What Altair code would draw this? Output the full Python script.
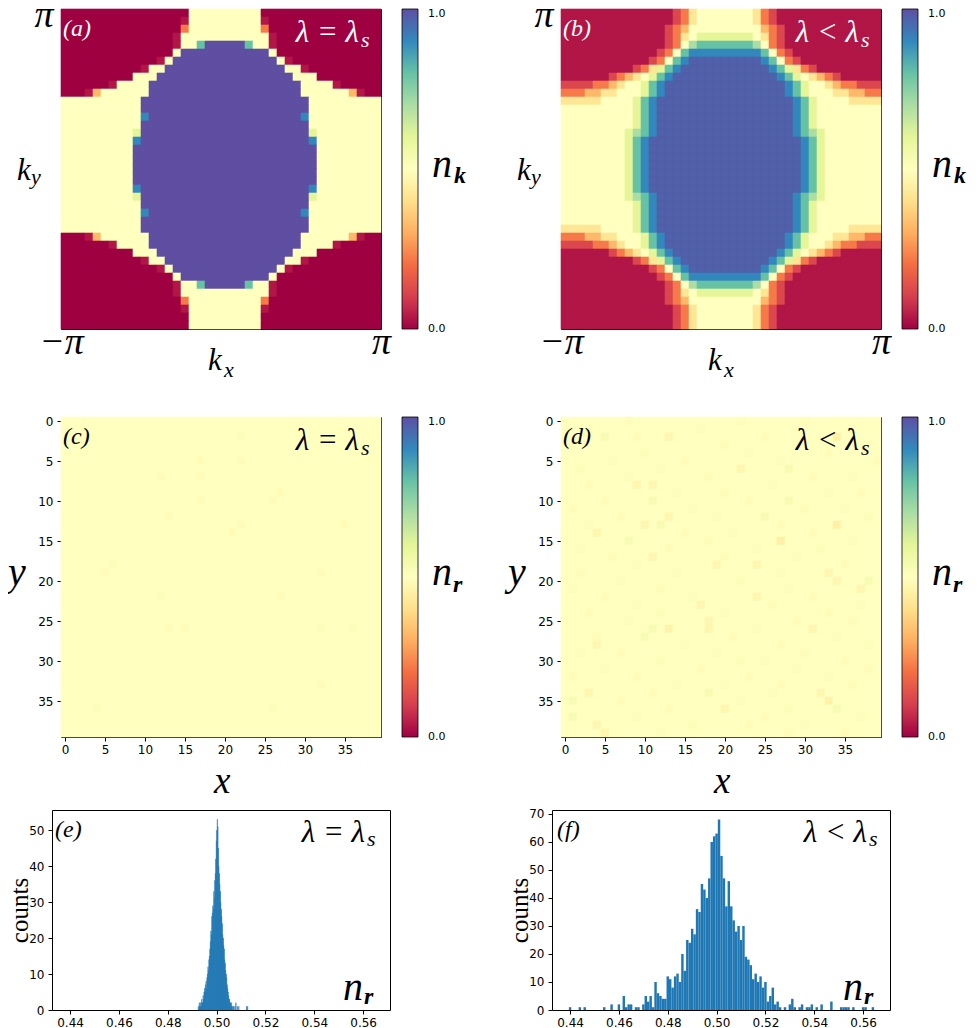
import altair as alt
import pandas as pd

SERIF = "Liberation Serif"
SANS = "DejaVu Sans"

# matplotlib "Spectral" colour stops (piecewise linear, as in the original colormap)
SPECTRAL_STOPS = [0.0, 0.1, 0.2, 0.3, 0.4, 0.5, 0.6, 0.7, 0.8, 0.9, 1.0]
SPECTRAL_COLORS = ["#9e0142", "#d53e4f", "#f46d43", "#fdae61", "#fee08b", "#ffffbf",
                   "#e6f598", "#abdda4", "#66c2a5", "#3288bd", "#5e4fa2"]

# colour level codes used in the momentum-space maps
LEVELS = {"z": 0.0, "a": 0.035, "1": 0.12, "2": 0.22, "3": 0.32, "4": 0.42,
          "5": 0.5, "6": 0.6, "7": 0.7, "8": 0.8, "9": 0.9, "A": 0.97, "B": 1.0}

# (a) n_k, lambda = lambda_s  (run-length rows, top row first, 40 cells each)
A_ROWS = [
    "z:16 5:9 z:15",
    "z:15 a:1 5:9 a:1 z:14",
    "z:15 2:1 5:9 2:1 z:14",
    "z:14 a:1 5:11 a:1 z:13",
    "z:14 a:1 5:2 8:1 B:5 8:1 5:2 a:1 z:13",
    "z:14 5:1 B:11 5:1 z:13",
    "z:12 a:1 5:1 B:13 5:1 a:1 z:11",
    "z:10 a:1 5:2 B:15 5:2 a:1 z:9",
    "z:9 5:3 B:17 5:3 z:8",
    "z:6 a:1 5:4 B:19 5:4 a:1 z:5",
    "z:3 a:1 3:1 5:6 B:19 5:6 3:1 a:1 z:2",
    "5:10 B:21 5:9",
    "5:10 B:21 5:9",
    "5:10 9:1 B:19 9:1 5:9",
    "5:10 B:21 5:9",
    "5:9 6:1 B:21 6:1 5:8",
    "5:9 9:1 B:21 9:1 5:8",
    "5:9 B:23 5:8",
    "5:9 B:23 5:8",
    "5:9 B:23 5:8",
    "5:9 B:23 5:8",
    "5:9 B:23 5:8",
    "5:9 9:1 B:21 9:1 5:8",
    "5:9 6:1 B:21 6:1 5:8",
    "5:10 B:21 5:9",
    "5:10 9:1 B:19 9:1 5:9",
    "5:10 B:21 5:9",
    "5:10 B:21 5:9",
    "z:3 a:1 3:1 5:6 B:19 5:6 3:1 a:1 z:2",
    "z:6 a:1 5:4 B:19 5:4 a:1 z:5",
    "z:9 5:3 B:17 5:3 z:8",
    "z:10 a:1 5:2 B:15 5:2 a:1 z:9",
    "z:12 a:1 5:1 B:13 5:1 a:1 z:11",
    "z:14 5:1 B:11 5:1 z:13",
    "z:14 a:1 5:2 8:1 B:5 8:1 5:2 a:1 z:13",
    "z:14 a:1 5:11 a:1 z:13",
    "z:15 2:1 5:9 2:1 z:14",
    "z:15 a:1 5:9 a:1 z:14",
    "z:16 5:9 z:15",
    "z:16 5:9 z:15",
]

# (b) n_k, lambda < lambda_s
B_ROWS = [
    "a:14 1:1 2:1 4:1 5:7 4:1 2:1 1:1 a:13",
    "a:14 1:1 2:1 4:1 5:7 4:1 2:1 1:1 a:13",
    "a:13 1:1 2:1 3:1 5:9 3:1 2:1 1:1 a:12",
    "a:13 1:1 2:1 4:1 5:1 6:7 5:1 4:1 2:1 1:1 a:12",
    "a:13 1:1 2:1 5:1 7:1 8:7 7:1 5:1 2:1 1:1 a:12",
    "a:12 1:1 2:1 5:1 8:1 9:9 8:1 5:1 2:1 1:1 a:11",
    "a:11 1:1 2:1 5:1 8:1 9:1 A:9 9:1 8:1 5:1 2:1 1:1 a:10",
    "a:9 1:1 2:1 4:1 6:1 8:1 9:1 A:11 9:1 8:1 6:1 4:1 2:1 1:1 a:8",
    "a:6 1:1 2:1 3:1 4:1 5:1 6:1 8:1 9:1 A:13 9:1 8:1 6:1 5:1 4:1 3:1 2:1 1:1 a:5",
    "1:4 2:2 3:1 4:1 5:2 6:1 8:1 9:1 A:15 9:1 8:1 6:1 5:2 4:1 3:1 2:2 1:3",
    "2:3 3:2 4:2 5:3 6:1 8:1 9:1 A:15 9:1 8:1 6:1 5:3 4:2 3:2 2:2",
    "4:5 5:4 6:1 8:1 9:1 A:17 9:1 8:1 6:1 5:4 4:4",
    "5:9 6:1 8:1 9:1 A:17 9:1 8:1 6:1 5:8",
    "5:9 6:1 8:1 9:1 A:17 9:1 8:1 6:1 5:8",
    "5:9 6:1 8:1 9:1 A:17 9:1 8:1 6:1 5:8",
    "5:8 6:1 7:1 8:1 9:1 A:17 9:1 8:1 7:1 6:1 5:7",
    "5:8 6:1 8:1 9:1 A:19 9:1 8:1 6:1 5:7",
    "5:8 6:1 8:1 9:1 A:19 9:1 8:1 6:1 5:7",
    "5:8 6:1 8:1 9:1 A:19 9:1 8:1 6:1 5:7",
    "5:8 6:1 8:1 9:1 A:19 9:1 8:1 6:1 5:7",
    "5:8 6:1 8:1 9:1 A:19 9:1 8:1 6:1 5:7",
    "5:8 6:1 8:1 9:1 A:19 9:1 8:1 6:1 5:7",
    "5:8 6:1 8:1 9:1 A:19 9:1 8:1 6:1 5:7",
    "5:8 6:1 7:1 8:1 9:1 A:17 9:1 8:1 7:1 6:1 5:7",
    "5:9 6:1 8:1 9:1 A:17 9:1 8:1 6:1 5:8",
    "5:9 6:1 8:1 9:1 A:17 9:1 8:1 6:1 5:8",
    "5:9 6:1 8:1 9:1 A:17 9:1 8:1 6:1 5:8",
    "4:5 5:4 6:1 8:1 9:1 A:17 9:1 8:1 6:1 5:4 4:4",
    "2:3 3:2 4:2 5:3 6:1 8:1 9:1 A:15 9:1 8:1 6:1 5:3 4:2 3:2 2:2",
    "1:4 2:2 3:1 4:1 5:2 6:1 8:1 9:1 A:15 9:1 8:1 6:1 5:2 4:1 3:1 2:2 1:3",
    "a:6 1:1 2:1 3:1 4:1 5:1 6:1 8:1 9:1 A:13 9:1 8:1 6:1 5:1 4:1 3:1 2:1 1:1 a:5",
    "a:9 1:1 2:1 4:1 6:1 8:1 9:1 A:11 9:1 8:1 6:1 4:1 2:1 1:1 a:8",
    "a:11 1:1 2:1 5:1 8:1 9:1 A:9 9:1 8:1 5:1 2:1 1:1 a:10",
    "a:12 1:1 2:1 5:1 8:1 9:9 8:1 5:1 2:1 1:1 a:11",
    "a:13 1:1 2:1 5:1 7:1 8:7 7:1 5:1 2:1 1:1 a:12",
    "a:13 1:1 2:1 4:1 5:1 6:7 5:1 4:1 2:1 1:1 a:12",
    "a:13 1:1 2:1 3:1 5:9 3:1 2:1 1:1 a:12",
    "a:14 1:1 2:1 4:1 5:7 4:1 2:1 1:1 a:13",
    "a:14 1:1 2:1 4:1 5:7 4:1 2:1 1:1 a:13",
    "a:14 1:1 2:1 4:1 5:7 4:1 2:1 1:1 a:13",
]

# (c) n_r at lambda = lambda_s: uniform with faint cells (row, col, value)
C_BASE = 0.5
C_SPOTS = [(2, 22, .49), (7, 17, .49), (10, 26, .49), (9, 27, .49), (10, 17, .49),
           (12, 13, .49), (13, 22, .49), (14, 21, .49), (13, 35, .49), (19, 5, .49),
           (18, 6, .49), (22, 12, .49), (22, 27, .49), (19, 32, .49), (26, 13, .49),
           (26, 15, .49), (26, 32, .49), (26, 36, .49), (36, 4, .49), (36, 26, .49),
           (33, 32, .49), (7, 12, .49), (5, 17, .49), (5, 22, .49)]

# (d) n_r at lambda < lambda_s
D_BASE = 0.5
D_SPOTS = [
    (0, 22, .51), (0, 8, .49), (0, 30, .51),
    (1, 3, .49), (1, 17, .51), (1, 36, .49),
    (2, 5, .53), (2, 13, .47), (2, 34, .45), (2, 25, .49), (2, 9, .49),
    (3, 1, .51), (3, 20, .49), (3, 29, .51), (3, 38, .49),
    (4, 10, .49), (4, 23, .51), (4, 33, .49),
    (5, 6, .51), (5, 15, .49), (5, 27, .51), (5, 39, .49),
    (6, 22, .47), (6, 28, .53), (6, 2, .49), (6, 12, .51),
    (7, 8, .51), (7, 18, .49), (7, 31, .49), (7, 36, .51),
    (8, 9, .47), (8, 11, .47), (8, 26, .51), (8, 3, .49),
    (9, 14, .51), (9, 20, .49), (9, 33, .51), (9, 37, .49),
    (10, 11, .53), (10, 28, .53), (10, 5, .49), (10, 23, .49),
    (11, 1, .49), (11, 16, .51), (11, 30, .49), (11, 35, .51),
    (12, 13, .47), (12, 25, .53), (12, 7, .49), (12, 19, .51), (12, 38, .49),
    (13, 10, .47), (13, 12, .53), (13, 34, .45), (13, 3, .51), (13, 27, .49),
    (14, 4, .47), (14, 21, .51), (14, 31, .49), (14, 15, .49),
    (15, 8, .53), (15, 27, .45), (15, 18, .49), (15, 36, .51),
    (16, 2, .51), (16, 13, .49), (16, 24, .51), (16, 32, .49),
    (17, 11, .47), (17, 29, .51), (17, 6, .49), (17, 20, .49),
    (18, 19, .47), (18, 24, .47), (18, 9, .51), (18, 35, .49),
    (19, 33, .47), (19, 14, .51), (19, 2, .49), (19, 27, .51),
    (20, 34, .47), (20, 38, .53), (20, 7, .51), (20, 22, .49),
    (21, 37, .47), (21, 12, .49), (21, 28, .51), (21, 1, .51),
    (22, 24, .47), (22, 16, .51), (22, 31, .49), (22, 5, .49),
    (23, 17, .47), (23, 9, .51), (23, 26, .49), (23, 37, .51),
    (24, 3, .49), (24, 20, .51), (24, 33, .49), (24, 12, .49),
    (25, 18, .47), (25, 8, .51), (25, 29, .49), (25, 36, .49),
    (26, 13, .46), (26, 11, .53), (26, 18, .47), (26, 31, .47), (26, 24, .51),
    (27, 10, .53), (27, 4, .49), (27, 21, .49), (27, 34, .51),
    (28, 4, .47), (28, 15, .51), (28, 27, .49), (28, 38, .51),
    (29, 7, .49), (29, 19, .51), (29, 30, .49), (29, 2, .51),
    (30, 12, .49), (30, 25, .51), (30, 35, .49), (30, 22, .49),
    (31, 5, .51), (31, 17, .49), (31, 29, .51), (31, 38, .49),
    (32, 9, .49), (32, 23, .49), (32, 33, .51), (32, 1, .49),
    (33, 14, .51), (33, 27, .49), (33, 36, .49), (33, 20, .51),
    (34, 3, .47), (34, 18, .53), (34, 32, .47), (34, 11, .49), (34, 26, .51),
    (35, 1, .53), (35, 33, .46), (35, 7, .49), (35, 22, .51),
    (36, 20, .47), (36, 34, .53), (36, 13, .49), (36, 28, .49),
    (37, 1, .53), (37, 9, .51), (37, 25, .49), (37, 37, .51),
    (38, 4, .47), (38, 16, .49), (38, 30, .51), (38, 23, .49),
    (39, 5, .47), (39, 12, .51), (39, 28, .49), (39, 35, .49),
]

GRID_TICKS = [0, 5, 10, 15, 20, 25, 30, 35]
COLORBAR_LABELS = ["1.0", "0.0"]

# (e) histogram of n_r, lambda = lambda_s
E_START = 0.4924
E_WIDTH = 0.0002
E_COUNTS = [1, 0, 2, 1, 1, 2, 1, 3, 2, 2,
            4, 3, 5, 6, 5, 7, 8, 6, 9, 10,
            12, 11, 14, 15, 17, 19, 22, 21, 26, 27,
            29, 28, 33, 31, 36, 38, 42, 47, 50, 53,
            51, 45, 40, 38, 35, 33, 30, 28, 26, 24,
            21, 20, 18, 17, 14, 13, 11, 10, 9, 7,
            6, 5, 4, 3, 3, 2, 2, 1, 2, 1,
            0, 1, 1, 0, 0, 1, 0, 2, 0, 0,
            1, 0, 0, 1, 0, 0, 0, 0, 0, 0,
            0, 0, 0, 0, 0, 0, 0, 0, 0, 1,
            0, 1]

# (f) histogram of n_r, lambda < lambda_s
F_START = 0.4385
F_WIDTH = 0.001
F_COUNTS = [0, 1, 0, 0, 0, 1, 0, 1, 0, 0,
            0, 0, 0, 0, 0, 1, 0, 0, 2, 0,
            0, 2, 0, 5, 1, 2, 2, 0, 1, 1,
            0, 2, 5, 3, 5, 1, 10, 6, 5, 4,
            4, 12, 11, 8, 12, 13, 10, 20, 14, 25,
            24, 29, 27, 36, 35, 45, 43, 40, 47, 60,
            62, 63, 68, 55, 47, 37, 46, 37, 32, 28,
            30, 25, 30, 19, 18, 16, 11, 13, 10, 12,
            8, 10, 3, 5, 8, 2, 3, 1, 0, 1,
            0, 2, 4, 1, 0, 1, 2, 0, 1, 1,
            2, 0, 1, 0, 2, 0, 0, 0, 3, 0,
            0, 0, 1, 1, 1, 1, 0, 1, 0, 0,
            0, 1, 1, 0, 0, 1]

HIST_TICKS = [0.44, 0.46, 0.48, 0.50, 0.52, 0.54, 0.56]
HIST_X_DOMAIN = [0.4326, 0.5710]
E_YTICKS = [0, 10, 20, 30, 40, 50]
F_YTICKS = [0, 10, 20, 30, 40, 50, 60, 70]
E_YMAX = 55.65
F_YMAX = 71.4

ONE = pd.DataFrame({"k": [0]})


def expand(row):
    cells = []
    for tok in row.split():
        ch, n = tok.split(":")
        cells.extend([ch] * int(n))
    if len(cells) != 40:
        raise ValueError(f"row has {len(cells)} cells: {row}")
    return cells


def finish(recs):
    df = pd.DataFrame(recs)
    df["c0"] = df["col"] - 0.5
    df["c1"] = df["col"] + 0.5
    df["r0"] = df["row"] - 0.5
    df["r1"] = df["row"] + 0.5
    return df


def coded_frame(rows):
    if len(rows) != 40:
        raise ValueError("need 40 rows")
    recs = []
    for r, row in enumerate(rows):
        for c, ch in enumerate(expand(row)):
            recs.append({"col": c, "row": r, "v": LEVELS[ch]})
    return finish(recs)


def spot_frame(base, spots):
    vals = {(r, c): v for r, c, v in spots}
    recs = [{"col": c, "row": r, "v": vals.get((r, c), base)}
            for r in range(40) for c in range(40)]
    return finish(recs)


def label(text, x, y, size, color="black", style="italic", weight="normal",
          align="left", font=SERIF, baseline="alphabetic"):
    return alt.Chart(ONE).mark_text(
        text=text, font=font, fontSize=size, fontStyle=style, fontWeight=weight,
        align=align, baseline=baseline, color=color,
    ).encode(x=alt.value(x), y=alt.value(y))


COLORBAR = alt.Legend(
    title=None, orient="right", offset=21, padding=0, direction="vertical",
    gradientLength=320, gradientThickness=16, values=[0, 1], labelOpacity=0,
    labelExpr="''", gradientStrokeColor="black", gradientStrokeWidth=0.8,
)

SPECTRAL = alt.Scale(domain=SPECTRAL_STOPS, range=SPECTRAL_COLORS, interpolate="rgb")


def rects(df, xaxis, yaxis):
    return alt.Chart(df).mark_rect(strokeWidth=0.6).encode(
        x=alt.X("c0:Q", scale=alt.Scale(domain=[-0.5, 39.5], nice=False, zero=False), axis=xaxis),
        x2="c1:Q",
        y=alt.Y("r0:Q", scale=alt.Scale(domain=[-0.5, 39.5], nice=False, zero=False, reverse=True),
                axis=yaxis),
        y2="r1:Q",
        color=alt.Color("v:Q", scale=SPECTRAL, legend=COLORBAR),
        stroke=alt.Stroke("v:Q", scale=SPECTRAL, legend=None),
    )


def colorbar_labels():
    return [
        label(COLORBAR_LABELS[0], 367, 5, 11, style="normal", font=SANS, baseline="middle"),
        label(COLORBAR_LABELS[1], 367, 320, 11, style="normal", font=SANS, baseline="middle"),
    ]


def k_panel(df, tag, lam):
    xaxis = alt.Axis(values=[-0.5, 39.5], labelExpr="datum.value < 0 ? '\u2212\u03c0' : '\u03c0'",
                     ticks=False, tickSize=0, domain=False, grid=False, title=None,
                     labelFont=SERIF, labelFontStyle="italic", labelFontSize=38,
                     labelBaseline="alphabetic", labelPadding=24, labelFlush=False,
                     labelOverlap=False, labelColor="black")
    yaxis = alt.Axis(values=[-0.5], labelExpr="'\u03c0'", ticks=False, tickSize=0, domain=False,
                     grid=False, title=None, labelFont=SERIF, labelFontStyle="italic",
                     labelFontSize=38, labelBaseline="alphabetic", labelAlign="right",
                     labelPadding=8, labelOffset=17, labelFlush=False, labelColor="black")
    return alt.layer(
        rects(df, xaxis, yaxis),
        label(tag, 2, 27, 24, color="white"),
        label(lam, 298, 33, 31, color="white", align="right"),
        label("s", 300, 38, 22, color="white"),
        label("k", -44, 171, 31),
        label("y", -30, 175, 22),
        label("k", 147, 361, 31),
        label("x", 163, 368, 22),
        label("n", 371, 168, 40),
        label("k", 393, 174, 24, weight="bold"),
        *colorbar_labels(),
    ).properties(width=320, height=320)


def r_panel(df, tag, lam):
    common = dict(values=GRID_TICKS, tickSize=4, tickColor="black", domain=False, grid=False,
                  title=None, labelFont=SANS, labelFontSize=12, labelFlush=False,
                  labelColor="black")
    xaxis = alt.Axis(labelPadding=3, **common)
    yaxis = alt.Axis(labelPadding=4, **common)
    return alt.layer(
        rects(df, xaxis, yaxis),
        label(tag, 2, 27, 24),
        label(lam, 298, 33, 31, align="right"),
        label("s", 300, 38, 22),
        label("y", -53, 168, 40),
        label("x", 153, 376, 37),
        label("n", 371, 168, 40),
        label("r", 392, 175, 24, weight="bold"),
        *colorbar_labels(),
    ).properties(width=320, height=320)


def hist_panel(start, width, counts, ymax, yticks, tag, lam, tag_x, lam_x, edge):
    df = pd.DataFrame({"lo": [start + width * i for i in range(len(counts))], "n": counts})
    df["hi"] = df["lo"] + width
    df = df[df["n"] > 0]
    xs = alt.Scale(domain=HIST_X_DOMAIN, nice=False, zero=False, range=[-9, 329])
    ys = alt.Scale(domain=[0, ymax], nice=False, zero=True, range=[185, -15])
    bars = alt.Chart(df).mark_rect(color="#1f77b4", stroke="#1f77b4", strokeWidth=edge,
                                   strokeOpacity=1 if edge > 0 else 0).encode(
        x=alt.X("lo:Q", scale=xs, axis=alt.Axis(
            values=HIST_TICKS, format=".2f", orient="bottom", offset=-15, tickSize=4,
            tickColor="black", domainColor="black", labelPadding=3, labelFont=SANS,
            labelFontSize=12, labelFlush=False, labelColor="black", grid=False, title=None)),
        x2="hi:Q",
        y=alt.Y("n:Q", scale=ys, axis=alt.Axis(
            values=yticks, orient="left", offset=9, tickSize=4, tickColor="black",
            domainColor="black", labelPadding=4, labelFont=SANS, labelFontSize=12,
            labelFlush=False, labelColor="black", grid=False, title="counts",
            titleFont=SERIF, titleFontSize=25, titleFontWeight="normal", titleColor="black",
            titleX=-25, titleY=85, titleAngle=270, titleBaseline="alphabetic",
            titleAlign="center")),
        y2=alt.datum(0),
    )
    frame = alt.Chart(df).mark_rect(opacity=0).encode(
        x=alt.X("lo:Q", scale=xs, axis=alt.Axis(
            orient="top", offset=15, ticks=False, tickSize=0, labels=False,
            domainColor="black", grid=False, title=None)),
        x2="hi:Q",
        y=alt.Y("n:Q", scale=ys, axis=alt.Axis(
            orient="right", offset=9, ticks=False, tickSize=0, labels=False,
            domainColor="black", grid=False, title=None)),
        y2=alt.datum(0),
    )
    return alt.layer(
        bars, frame,
        label(tag, tag_x, 12, 24),
        label(lam, lam_x, 17, 31, align="right"),
        label("s", lam_x + 2, 21, 22),
        label("n", 282, 175, 40),
        label("r", 303, 179, 24, weight="bold"),
    ).resolve_scale(x="independent", y="independent").properties(
        width=320, height=200, view=alt.ViewBackground(stroke="transparent"))


pa = k_panel(coded_frame(A_ROWS), "(a)", "\u03bb = \u03bb")
pb = k_panel(coded_frame(B_ROWS), "(b)", "\u03bb < \u03bb")
pc = r_panel(spot_frame(C_BASE, C_SPOTS), "(c)", "\u03bb = \u03bb")
pd_ = r_panel(spot_frame(D_BASE, D_SPOTS), "(d)", "\u03bb < \u03bb")
pe = hist_panel(E_START, E_WIDTH, E_COUNTS, E_YMAX, E_YTICKS, "(e)", "\u03bb = \u03bb", -6, 304, 0.4)
pf = hist_panel(F_START, F_WIDTH, F_COUNTS, F_YMAX, F_YTICKS, "(f)", "\u03bb < \u03bb", -4, 306, 0)

chart = alt.concat(
    pa, pb, pc, pd_, pe, pf,
    columns=2, spacing=alt.RowColnumber(row=88, column=180), bounds="flush",
).resolve_scale(color="independent", x="independent", y="independent").properties(
    padding={"top": -13, "left": -2, "right": 0, "bottom": 0},
).configure_view(stroke="black", strokeWidth=1).configure_axis(grid=False)

chart.save("out.html", embed_options={"renderer": "svg", "actions": False})
